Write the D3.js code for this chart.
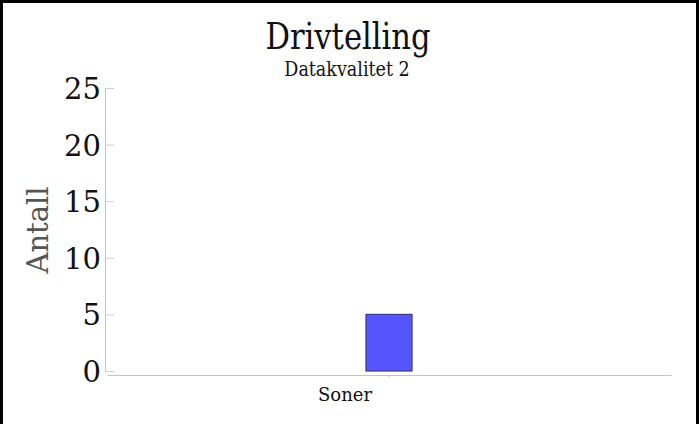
<!DOCTYPE html>
<html><head><meta charset="utf-8">
<script src="https://cdn.jsdelivr.net/npm/d3@7"></script>
<style>body{margin:0;background:#fff;}svg{display:block;}</style>
</head><body>
<script>
const categories = ["Soner"];
const values = [5];
const yTicks = [0, 5, 10, 15, 20, 25];
const title = "Drivtelling";
const subtitle = "Datakvalitet 2";
const yLabel = "Antall";

const W = 699, H = 424;
const svg = d3.select("body").append("svg").attr("width", W).attr("height", H);
svg.append("rect").attr("width", W).attr("height", H).attr("fill", "#fff");
// frame (top, left, right)
svg.append("path").attr("d", `M1.5,${H+5} V1.5 H697.5 V${H+5}`).attr("fill","none").attr("stroke","#000").attr("stroke-width",3);

const x0 = 105, yTop = 88, yBot = 371;
const y = d3.scaleLinear().domain([0, 25]).range([yBot, yTop]);
const x = d3.scaleBand().domain(categories).range([107, 671]).paddingInner(0).paddingOuter(5.63);

svg.append("text").attr("transform", "translate(348,49) scale(1,1.09)").attr("text-anchor","middle")
  .attr("font-family","DejaVu Serif Condensed, DejaVu Serif").attr("font-size",34).attr("fill","#111").text(title);
svg.append("text").attr("transform", "translate(347,76) scale(1,1.05)").attr("text-anchor","middle")
  .attr("font-family","DejaVu Serif Condensed, DejaVu Serif").attr("font-size",19.5).attr("fill","#111").text(subtitle);

// y axis
const ya = svg.append("g").attr("transform", `translate(${x0},0)`)
  .call(d3.axisRight(y).tickValues(yTicks).tickSize(9).tickSizeOuter(0).tickFormat(d3.format("d")));
ya.select(".domain").attr("stroke","#c4c4c4");
ya.selectAll(".tick line").attr("stroke","#cccccc");
ya.selectAll(".tick text").attr("x", -4).attr("text-anchor","end").attr("dy","0.36em")
  .attr("font-family","DejaVu Serif").attr("font-size",29).attr("fill","#111");

svg.append("text").attr("transform", "translate(48,230) rotate(-90)").attr("text-anchor","middle")
  .attr("font-family","DejaVu Serif").attr("font-size",29).attr("fill","#555").text(yLabel);

// x axis
const xa = svg.append("g").attr("transform", `translate(0,375)`)
  .call(d3.axisBottom(x).tickSize(2).tickSizeOuter(0));
xa.select(".domain").attr("stroke","#c4c4c4");
xa.selectAll(".tick line").attr("stroke","#bbb");
xa.selectAll(".tick text").attr("x", -44).attr("y", 26).attr("dy", 0)
  .attr("font-family","DejaVu Serif").attr("font-size",18).attr("fill","#111");

// bars
svg.append("g").selectAll("rect").data(values).join("rect")
  .attr("x", (d,i) => x(categories[i]))
  .attr("width", x.bandwidth())
  .attr("y", d => y(d))
  .attr("height", d => y(0) - y(d))
  .attr("fill", "#5555ff").attr("stroke", "#3b3b8a").attr("stroke-width", 1.2);
</script>
</body></html>
